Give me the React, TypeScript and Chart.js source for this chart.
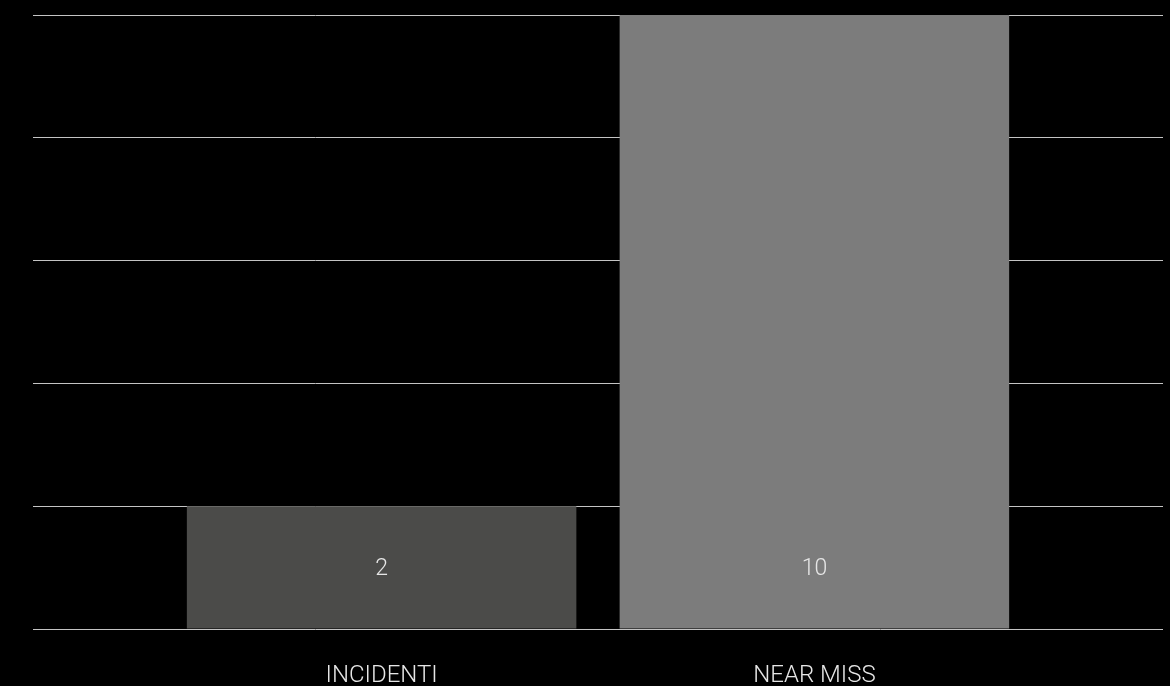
import React, { useEffect, useRef } from "react";
import { Chart, registerables } from "chart.js";

Chart.register(...registerables);

const categories = ["INCIDENTI", "NEAR MISS"];
const values = [2, 10];
const barColors = ["#4b4b49", "#7c7c7c"];
const yTicks = [0, 2, 4, 6, 8, 10];

const FONT = "'Helvetica Neue', Roboto, 'Liberation Sans', sans-serif";

const labelPlugin = {
  id: "barLabels",
  afterDatasetsDraw(chart: any) {
    const ctx = chart.ctx;
    const yScale = chart.scales.y;
    const base = yScale.getPixelForValue(0);
    ctx.save();
    ctx.textAlign = "center";
    ctx.textBaseline = "middle";
    chart.data.datasets.forEach((ds: any, i: number) => {
      const meta = chart.getDatasetMeta(i);
      const el = meta.data[0];
      if (!el) return;
      ctx.fillStyle = "#e6e6e6";
      ctx.font = `300 23px ${FONT}`;
      ctx.fillText(String(ds.data[0]), el.x, base - 60);
      ctx.font = `300 24px ${FONT}`;
      ctx.fillText(ds.label, el.x, base + 47);
    });
    ctx.restore();
  },
};

export default function App() {
  const ref = useRef<HTMLCanvasElement>(null);
  useEffect(() => {
    if (!ref.current) return;
    const chart = new Chart(ref.current, {
      type: "bar",
      data: {
        labels: [""],
        datasets: categories.map((c, i) => ({
          label: c,
          data: [values[i]],
          backgroundColor: barColors[i],
          borderWidth: 0,
          barPercentage: 0.9,
          categoryPercentage: 0.766,
        })),
      },
      options: {
        animation: false,
        responsive: false,
        layout: { padding: { left: 33, right: 7, top: 15, bottom: 57 } },
        plugins: { legend: { display: false }, tooltip: { enabled: false } },
        scales: {
          x: { display: false },
          y: {
            min: yTicks[0],
            max: yTicks[yTicks.length - 1],
            afterBuildTicks: (axis: any) => {
              axis.ticks = yTicks.map((v) => ({ value: v }));
            },
            ticks: { display: false },
            border: { display: false },
            grid: { color: "#c4c4c4", lineWidth: 1, drawTicks: false },
          },
        },
      },
      plugins: [labelPlugin],
    });
    return () => chart.destroy();
  }, []);
  return (
    <div style={{ position: "fixed", left: 0, top: 0, width: 1170, height: 686, background: "#000" }}>
      <canvas ref={ref} width={1170} height={686} style={{ display: "block" }} />
    </div>
  );
}
